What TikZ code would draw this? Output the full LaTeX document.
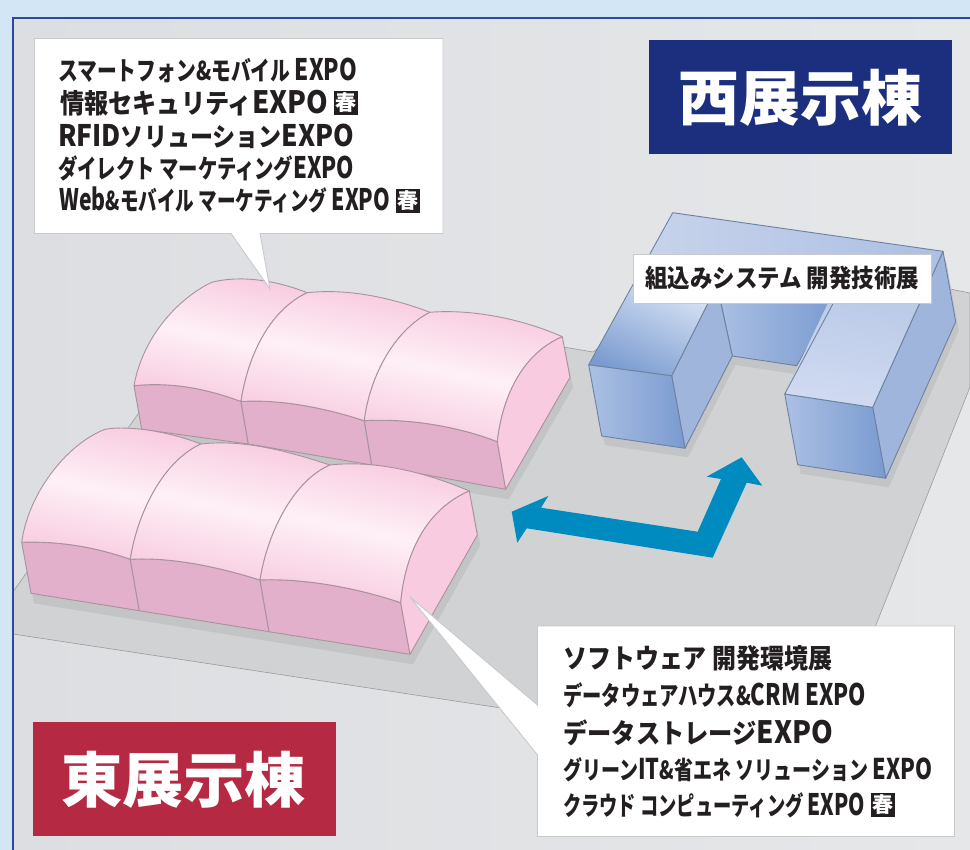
\documentclass[tikz,border=0pt]{standalone}
\usepackage{fontspec}
\usepackage{graphicx}
\newfontfamily\jp[BoldFont=Noto Sans CJK JP Black]{Noto Sans CJK JP}
\definecolor{sky}{HTML}{D2E6F6}
\definecolor{frameblue}{HTML}{2B4A9E}
\definecolor{hallL}{HTML}{DDDEE1}
\definecolor{hallR}{HTML}{E6E7E9}
\definecolor{floorgray}{HTML}{D1D2D4}
\definecolor{flooredge}{HTML}{9A9B9D}
\definecolor{shadowgray}{HTML}{C3C4C6}
\definecolor{pinkline}{HTML}{A8929E}
\definecolor{pinkA}{HTML}{F8CBE0}
\definecolor{pinkB}{HTML}{FEF0F6}
\definecolor{pinkwall}{HTML}{E2B0CA}
\definecolor{blueline}{HTML}{6D829F}
\definecolor{blueside}{HTML}{A0B5DC}
\definecolor{blueL}{HTML}{ABC0E3}
\definecolor{blueM}{HTML}{87A5D5}
\definecolor{blueD}{HTML}{7A9BD0}
\definecolor{topL}{HTML}{CCD7ED}
\definecolor{topR}{HTML}{ADBFE3}
\definecolor{wingA}{HTML}{BCCBE8}
\definecolor{wingB}{HTML}{D1DBF2}
\definecolor{wingC}{HTML}{D9E3F5}
\definecolor{arrowblue}{HTML}{008BC0}
\definecolor{calloutedge}{HTML}{C8C9CB}
\definecolor{ink}{HTML}{231F20}
\definecolor{westblue}{HTML}{1B2F7E}
\definecolor{eastred}{HTML}{B52A42}
\tikzset{
  x=1pt,y=-1pt,
  roof/.style={draw=pinkline,line width=0.9pt,line join=round,top color=pinkA,bottom color=pinkA,middle color=pinkB,shading angle=-12},
  wall/.style={draw=pinkline,fill=pinkwall,line width=0.9pt,line join=round},
  endface/.style={draw=pinkline,fill=pinkA,line width=0.9pt,line join=round},
  bluebox/.style={draw=blueline,line width=0.9pt,line join=round},
  bluefront/.style={bluebox,left color=blueL,middle color=blueM,right color=blueD},
  callout/.style={draw=calloutedge,fill=white,line width=0.9pt,line join=miter},
  tag/.style={fill=ink,text=white,inner sep=0pt,minimum width=24pt,minimum height=24pt,font=\jp\bfseries\fontsize{21}{21}\selectfont},
  linetext/.style={inner sep=0pt,anchor=base west,text=ink},
}
\newsavebox\linebox
% target width, font size, text
\newcommand{\fitbody}[3]{%
  \sbox\linebox{\fontsize{#2}{#2}\selectfont\jp\bfseries #3}%
  \pgfmathsetmacro\fitratio{#1/\the\wd\linebox}%
  \scalebox{\fitratio}[1]{\usebox\linebox}}
% name, left x, baseline y, target width, font size, text
\newcommand{\fitline}[6]{%
  \node[linetext] (#1) at (#2,#3) {\fitbody{#4}{#5}{#6}};}
% Latin letters stand as tall as the kana
\newcommand{\lat}[1]{\scalebox{1.14}{#1}}
\begin{document}
\begin{tikzpicture}
\useasboundingbox (0,0) rectangle (970,850);
% background
\fill[sky] (0,0) rectangle (970,850);
\shade[left color=hallL,right color=hallR] (13,18) rectangle (970,850);
% floor
\draw[fill=floorgray,draw=flooredge,line width=0.6pt,line join=round]
  (13,592) -- (225,290) -- (593,352) -- (620,330) -- (700,240) -- (945,288) -- (970,293)
  -- (970,387) -- (870,640) -- (600,723) -- (13,634) -- cycle;
\draw[frameblue,line width=1.6pt] (13,850) -- (13,18) -- (970,18);
% shadows
\fill[shadowgray,shift={(3,10)}] (141.7,429.3) -- (505.7,489.3) -- (570,377.3) -- (562,337) -- (300,300) -- cycle;
\fill[shadowgray,shift={(3,10)}] (31,593.3) -- (410,654.3) -- (477.3,535) -- (469,491) -- (21.7,542.3) -- cycle;
\fill[shadowgray,shift={(3,9)}] (588.7,364.7) -- (601.7,436) -- (685,448.3) -- (732.3,356) -- (796.7,365.7) -- (784.7,394) -- (797.7,464.7) -- (885.7,478.3) -- (955.7,321.7) -- (943,251.3) -- (672.7,212.7) -- cycle;
% back pink hall
\draw[wall] (134,385.7) .. controls (170,382) and (205,388) .. (241,401.5) -- (248.3,444) -- (141.7,429.3) -- cycle;
\draw[wall] (241,401.5) .. controls (281,399) and (325,408) .. (364.3,420.7) -- (371.7,465) -- (248.3,444) -- cycle;
\draw[wall] (364.3,420.7) .. controls (410,418) and (460,427) .. (497.3,441.7) -- (505.7,489.3) -- (371.7,465) -- cycle;
\shade[roof] (134,385.7) .. controls (142,340) and (175,300) .. (211.7,282.3) .. controls (240,275) and (275,280) .. (307.3,292.7) .. controls (270,310) and (248,355) .. (241,401.5) .. controls (205,388) and (170,382) .. (134,385.7) -- cycle;
\shade[roof] (241,401.5) .. controls (248,355) and (270,310) .. (307.3,292.7) .. controls (350,288) and (395,299) .. (430,312.3) .. controls (395,330) and (370,375) .. (364.3,420.7) .. controls (325,408) and (281,399) .. (241,401.5) -- cycle;
\shade[roof] (364.3,420.7) .. controls (370,375) and (395,330) .. (430,312.3) .. controls (470,309) and (520,318) .. (562.3,336.7) .. controls (520,355) and (502,400) .. (497.3,441.7) .. controls (460,427) and (410,418) .. (364.3,420.7) -- cycle;
\draw[endface] (562.3,336.7) .. controls (520,355) and (502,400) .. (497.3,441.7) -- (505.7,489.3) -- (570,377.3) -- cycle;
% front pink hall
\draw[wall] (21.7,542.3) .. controls (60,541) and (95,547) .. (130.3,559.3) -- (139.3,610.7) -- (31,593.3) -- cycle;
\draw[wall] (130.3,559.3) .. controls (170,557) and (215,566) .. (260,580) -- (269,631.7) -- (139.3,610.7) -- cycle;
\draw[wall] (260,580) .. controls (300,578) and (355,587) .. (400.7,602.7) -- (410,654.3) -- (269,631.7) -- cycle;
\shade[roof] (21.7,542.3) .. controls (28,495) and (65,445) .. (105,429.3) .. controls (130,425) and (170,432) .. (201,444) .. controls (165,460) and (138,510) .. (130.3,559.3) .. controls (95,547) and (60,541) .. (21.7,542.3) -- cycle;
\shade[roof] (130.3,559.3) .. controls (138,510) and (165,460) .. (201,444) .. controls (245,439) and (290,452) .. (330,465) .. controls (295,480) and (268,530) .. (260,580) .. controls (215,566) and (170,557) .. (130.3,559.3) -- cycle;
\shade[roof] (260,580) .. controls (268,530) and (295,480) .. (330,465) .. controls (375,460) and (425,472) .. (469.3,491) .. controls (425,510) and (405,555) .. (400.7,602.7) .. controls (355,587) and (300,578) .. (260,580) -- cycle;
\draw[endface] (469.3,491) .. controls (425,510) and (405,555) .. (400.7,602.7) -- (410,654.3) -- (477.3,535) -- cycle;
% blue building
\shade[bluefront] (717,285) -- (836,298) -- (796.7,365.7) -- (732.3,356) -- cycle;
\draw[bluebox,fill=blueside] (671.7,375.7) -- (685,448.3) -- (732.3,356) -- (717,285) -- cycle;
\draw[bluebox,fill=blueside] (943,251.3) -- (955.7,321.7) -- (885.7,478.3) -- (872.7,407.3) -- cycle;
\shade[bluefront] (588.7,364.7) -- (671.7,375.7) -- (685,448.3) -- (601.7,436) -- cycle;
\shade[bluefront] (784.7,394) -- (872.7,407.3) -- (885.7,478.3) -- (797.7,464.7) -- cycle;
\shade[left color=topL,right color=topR] (588.7,364.7) -- (672.7,212.7) -- (943,251.3) -- (872.7,407.3) -- (784.7,394) -- (836,298) -- (717,285) -- (671.7,375.7) -- cycle;
\shade[top color=wingA,bottom color=wingB,shading angle=-10] (784.7,394) -- (872.7,407.3) -- (919.6,303) -- (828,303) -- cycle;
\shade[top color=wingC,bottom color=blueD,shading angle=-25] (588.7,364.7) -- (671.7,375.7) -- (708,303) -- (717,285) -- (633,285) -- cycle;
\draw[bluebox] (588.7,364.7) -- (672.7,212.7) -- (943,251.3) -- (872.7,407.3) -- (784.7,394) -- (836,298);
\draw[bluebox] (717,285) -- (671.7,375.7) -- (588.7,364.7);
% arrow
\fill[arrowblue] (511.7,511.7) -- (548.3,496) -- (541,507.7) -- (697.7,531.7) -- (721,479) -- (706.7,476.7) -- (741.7,457.3) -- (762.3,485.7) -- (746.7,482.7) -- (712.7,557.7) -- (526.7,528.3) -- (517.3,542.7) -- cycle;
% callouts
\draw[callout] (34.5,38.5) -- (443,38.5) -- (443,233.5) -- (260,233.5) -- (270,289) -- (231,233.5) -- (34.5,233.5) -- cycle;
\draw[callout] (537.5,626) -- (954.5,626) -- (954.5,836.5) -- (537.5,836.5) -- (537.5,755) -- (410,597) -- (537.5,705) -- cycle;
\draw[callout] (633,254) rectangle (931,303);
% title boxes
\fill[westblue] (649,40) rectangle (952,154);
\fill[eastred] (33,722) rectangle (336,836);
\fitline{westtitle}{678}{121}{244}{60}{\color{white}西展示棟}
\fitline{easttitle}{61}{802}{245}{60}{\color{white}東展示棟}
% upper left list
\fitline{a1}{58}{81}{299}{26}{スマートフォン\&モバイル \lat{EXPO}}
\fitline{a2}{60}{114}{268}{27}{情報セキュリティ\lat{EXPO}}
\fitline{a3}{58}{146.5}{296}{26}{\lat{RFID}ソリューション\lat{EXPO}}
\fitline{a4}{58}{178.5}{296}{26}{ダイレクト マーケティング\lat{EXPO}}
\fitline{a5}{59}{210.5}{331}{26}{\lat{Web}\&モバイル マーケティング \lat{EXPO}}
\node[tag] (a2tag) at (346,103) {春};
\node[tag] (a5tag) at (408,201) {春};
% west label
\fitline{w1}{645}{288}{274}{25}{組込みシステム 開発技術展}
% lower right list
\fitline{c1}{563}{668}{269}{27}{ソフトウェア 開発環境展}
\fitline{c2}{563}{705.5}{303}{26}{データウェアハウス\&\lat{CRM EXPO}}
\fitline{c3}{563}{743.5}{270}{27}{データストレージ\lat{EXPO}}
\fitline{c4}{563}{779}{369}{25}{グリーン\lat{IT}\&省エネ ソリューション \lat{EXPO}}
\fitline{c5}{563}{815.5}{302}{26}{クラウド コンピューティング \lat{EXPO}}
\node[tag] (c5tag) at (883,805) {春};
\end{tikzpicture}
\end{document}
